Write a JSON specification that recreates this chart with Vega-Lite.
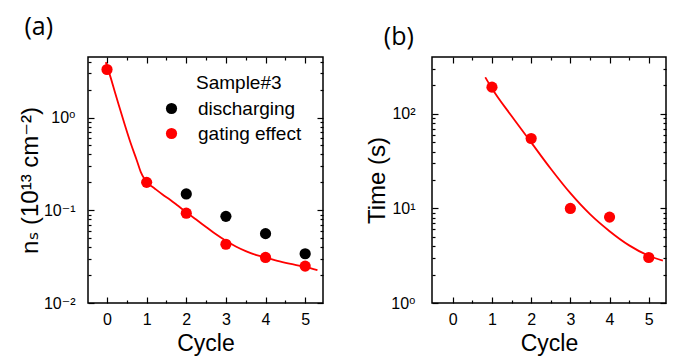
{
  "$schema": "https://vega.github.io/schema/vega-lite/v6.json",
  "background": "white",
  "autosize": {"type": "pad"},
  "padding": {"left": 17, "top": 14, "right": 5, "bottom": 0},
  "config": {
    "view": {"stroke": "black", "strokeWidth": 1.5},
    "font": "Liberation Sans, DejaVu Sans",
    "axis": {"grid": false, "domain": false, "ticks": true, "tickColor": "black", "tickWidth": 1.2, "labelColor": "black", "titleColor": "black", "labelFont": "Liberation Sans, DejaVu Sans", "titleFont": "Liberation Sans, DejaVu Sans", "labelFontSize": 16, "titleFontSize": 24, "titleFontWeight": "normal"},
    "title": {"font": "Open Sans", "fontSize": 25, "fontWeight": "normal", "anchor": "start", "frame": "bounds", "color": "black"}
  },
  "datasets": {
    "ns_points": [
      {"cycle": 2, "ns": 0.15, "series": "discharging"},
      {"cycle": 3, "ns": 0.086, "series": "discharging"},
      {"cycle": 4, "ns": 0.056, "series": "discharging"},
      {"cycle": 5, "ns": 0.034, "series": "discharging"},
      {"cycle": 0, "ns": 3.3, "series": "gating effect"},
      {"cycle": 1, "ns": 0.2, "series": "gating effect"},
      {"cycle": 2, "ns": 0.093, "series": "gating effect"},
      {"cycle": 3, "ns": 0.043, "series": "gating effect"},
      {"cycle": 4, "ns": 0.031, "series": "gating effect"},
      {"cycle": 5, "ns": 0.025, "series": "gating effect"}
    ],
    "ns_fit": [
      {"cycle": -0.03, "ns": 3.96},
      {"cycle": 0.1, "ns": 2.63},
      {"cycle": 0.2, "ns": 1.88},
      {"cycle": 0.3, "ns": 1.35},
      {"cycle": 0.45, "ns": 0.832},
      {"cycle": 0.6, "ns": 0.525},
      {"cycle": 0.75, "ns": 0.347},
      {"cycle": 0.85, "ns": 0.26},
      {"cycle": 0.95, "ns": 0.216},
      {"cycle": 1.05, "ns": 0.193},
      {"cycle": 1.2, "ns": 0.172},
      {"cycle": 1.4, "ns": 0.148},
      {"cycle": 1.6, "ns": 0.129},
      {"cycle": 1.8, "ns": 0.111},
      {"cycle": 2.0, "ns": 0.0955},
      {"cycle": 2.25, "ns": 0.0794},
      {"cycle": 2.5, "ns": 0.0661},
      {"cycle": 2.75, "ns": 0.055},
      {"cycle": 3.0, "ns": 0.0468},
      {"cycle": 3.25, "ns": 0.0407},
      {"cycle": 3.5, "ns": 0.0363},
      {"cycle": 3.75, "ns": 0.0331},
      {"cycle": 4.0, "ns": 0.0309},
      {"cycle": 4.3, "ns": 0.0285},
      {"cycle": 4.6, "ns": 0.0266},
      {"cycle": 5.0, "ns": 0.0245},
      {"cycle": 5.31, "ns": 0.0226}
    ],
    "time_points": [
      {"cycle": 1, "time": 192},
      {"cycle": 2, "time": 55},
      {"cycle": 3, "time": 10},
      {"cycle": 4, "time": 8.1},
      {"cycle": 5, "time": 3.03}
    ],
    "time_fit": [
      {"cycle": 0.83, "time": 244},
      {"cycle": 1.0, "time": 186},
      {"cycle": 1.5, "time": 95},
      {"cycle": 2.0, "time": 50},
      {"cycle": 2.5, "time": 26.3},
      {"cycle": 3.0, "time": 14.5},
      {"cycle": 3.5, "time": 8.7},
      {"cycle": 4.0, "time": 5.75},
      {"cycle": 4.5, "time": 4.07},
      {"cycle": 5.0, "time": 3.16},
      {"cycle": 5.36, "time": 2.8}
    ]
  },
  "bounds": "flush",
  "spacing": 109,
  "hconcat": [
    {
      "title": {"text": "(a)", "offset": 16, "dx": 6},
      "width": 235,
      "height": 246,
      "resolve": {"axis": {"x": "independent", "y": "independent"}},
      "layer": [
        {
          "data": {"name": "ns_fit"},
          "mark": {"type": "line", "color": "red", "strokeWidth": 1.8, "interpolate": "monotone"},
          "encoding": {
            "x": {"field": "cycle", "type": "quantitative", "scale": {"domain": [-0.48, 5.45], "nice": false, "zero": false},
                  "axis": {"orient": "bottom", "values": [0, 1, 2, 3, 4, 5], "ticks": true, "tickColor": "black", "tickWidth": 1.2, "tickOpacity": 1, "offset": -6, "tickSize": 6, "labelPadding": 8, "title": "Cycle", "titlePadding": 5, "titleFontSize": 23}},
            "y": {"field": "ns", "type": "quantitative", "scale": {"type": "log", "domain": [0.01, 4.5], "nice": false},
                  "axis": {"orient": "left", "values": [0.01, 0.1, 1], "ticks": true, "tickColor": "black", "tickWidth": 1.2, "tickOpacity": 1, "offset": -6, "tickSize": 6, "labelPadding": 13,
                           "labelExpr": "datum.value < 0.05 ? '10⁻²' : datum.value < 0.5 ? '10⁻¹' : '10⁰'",
                           "title": "nₛ (10¹³ cm⁻²)", "titlePadding": 1}}
          }
        },
        {
          "data": {"name": "ns_points"},
          "mark": {"type": "circle", "size": 125, "opacity": 1},
          "encoding": {
            "x": {"field": "cycle", "type": "quantitative",
                  "axis": {"orient": "top", "values": [0, 1, 2, 3, 4, 5], "ticks": true, "tickColor": "black", "tickWidth": 1.2, "tickOpacity": 1, "offset": -6, "tickSize": 6, "labels": false, "title": null}},
            "y": {"field": "ns", "type": "quantitative",
                  "axis": {"orient": "right", "values": [0.01, 0.1, 1], "ticks": true, "tickColor": "black", "tickWidth": 1.2, "tickOpacity": 1, "offset": -6, "tickSize": 6, "labels": false, "title": null}},
            "color": {"field": "series", "type": "nominal",
                      "scale": {"domain": ["discharging", "gating effect"], "range": ["black", "red"]},
                      "legend": {"orient": "none", "legendX": 108, "legendY": 17, "title": "Sample#3",
                                 "titleFontSize": 19, "titleFontWeight": "normal", "titleColor": "black", "titlePadding": 6,
                                 "labelFontSize": 19, "labelOffset": 17, "symbolOffset": -34, "rowPadding": 5, "symbolSize": 125, "symbolType": "circle", "symbolStrokeWidth": 0,
                                 "encode": {
                                   "labels": {"update": {"fill": {"signal": "datum.label === 'gating effect' ? 'red' : 'black'"}}}
                                 }}}
          }
        },
        {
          "data": {"name": "ns_points"},
          "mark": {"type": "circle", "opacity": 0},
          "encoding": {
            "x": {"field": "cycle", "type": "quantitative",
                  "axis": {"orient": "bottom", "values": [0.5, 1.5, 2.5, 3.5, 4.5], "ticks": true, "tickColor": "black", "tickWidth": 1.2, "tickOpacity": 1, "offset": -3, "tickSize": 3, "labels": false, "title": null}},
            "y": {"field": "ns", "type": "quantitative",
                  "axis": {"orient": "left", "values": [0.02, 0.03, 0.04, 0.05, 0.06, 0.07, 0.08, 0.09, 0.2, 0.3, 0.4, 0.5, 0.6, 0.7, 0.8, 0.9, 2, 3, 4], "ticks": true, "tickColor": "black", "tickWidth": 1.2, "tickOpacity": 1, "offset": -3, "tickSize": 3, "labels": false, "title": null}}
          }
        },
        {
          "data": {"name": "ns_points"},
          "mark": {"type": "circle", "opacity": 0},
          "encoding": {
            "x": {"field": "cycle", "type": "quantitative",
                  "axis": {"orient": "top", "values": [0.5, 1.5, 2.5, 3.5, 4.5], "ticks": true, "tickColor": "black", "tickWidth": 1.2, "tickOpacity": 1, "offset": -3, "tickSize": 3, "labels": false, "title": null}},
            "y": {"field": "ns", "type": "quantitative",
                  "axis": {"orient": "right", "values": [0.02, 0.03, 0.04, 0.05, 0.06, 0.07, 0.08, 0.09, 0.2, 0.3, 0.4, 0.5, 0.6, 0.7, 0.8, 0.9, 2, 3, 4], "ticks": true, "tickColor": "black", "tickWidth": 1.2, "tickOpacity": 1, "offset": -3, "tickSize": 3, "labels": false, "title": null}}
          }
        }
      ]
    },
    {
      "title": {"text": "(b)", "offset": 6, "dx": 18},
      "width": 234,
      "height": 246,
      "resolve": {"axis": {"x": "independent", "y": "independent"}},
      "layer": [
        {
          "data": {"name": "time_fit"},
          "mark": {"type": "line", "color": "red", "strokeWidth": 1.8, "interpolate": "monotone"},
          "encoding": {
            "x": {"field": "cycle", "type": "quantitative", "scale": {"domain": [-0.53, 5.44], "nice": false, "zero": false},
                  "axis": {"orient": "bottom", "values": [0, 1, 2, 3, 4, 5], "ticks": true, "tickColor": "black", "tickWidth": 1.2, "tickOpacity": 1, "offset": -6, "tickSize": 6, "labelPadding": 8, "title": "Cycle", "titlePadding": 5, "titleFontSize": 23}},
            "y": {"field": "time", "type": "quantitative", "scale": {"type": "log", "domain": [1, 400], "nice": false},
                  "axis": {"orient": "left", "values": [1, 10, 100], "ticks": true, "tickColor": "black", "tickWidth": 1.2, "tickOpacity": 1, "offset": -6, "tickSize": 6, "labelPadding": 17,
                           "labelExpr": "datum.value < 5 ? '10⁰' : datum.value < 50 ? '10¹' : '10²'",
                           "title": "Time (s)", "titlePadding": 1}}
          }
        },
        {
          "data": {"name": "time_points"},
          "mark": {"type": "circle", "size": 125, "opacity": 1, "color": "red"},
          "encoding": {
            "x": {"field": "cycle", "type": "quantitative",
                  "axis": {"orient": "top", "values": [0, 1, 2, 3, 4, 5], "ticks": true, "tickColor": "black", "tickWidth": 1.2, "tickOpacity": 1, "offset": -6, "tickSize": 6, "labels": false, "title": null}},
            "y": {"field": "time", "type": "quantitative",
                  "axis": {"orient": "right", "values": [1, 10, 100], "ticks": true, "tickColor": "black", "tickWidth": 1.2, "tickOpacity": 1, "offset": -6, "tickSize": 6, "labels": false, "title": null}}
          }
        },
        {
          "data": {"name": "time_points"},
          "mark": {"type": "circle", "opacity": 0},
          "encoding": {
            "x": {"field": "cycle", "type": "quantitative",
                  "axis": {"orient": "bottom", "values": [0.5, 1.5, 2.5, 3.5, 4.5], "ticks": true, "tickColor": "black", "tickWidth": 1.2, "tickOpacity": 1, "offset": -3, "tickSize": 3, "labels": false, "title": null}},
            "y": {"field": "time", "type": "quantitative",
                  "axis": {"orient": "left", "values": [2, 3, 4, 5, 6, 7, 8, 9, 20, 30, 40, 50, 60, 70, 80, 90, 200, 300], "ticks": true, "tickColor": "black", "tickWidth": 1.2, "tickOpacity": 1, "offset": -3, "tickSize": 3, "labels": false, "title": null}}
          }
        },
        {
          "data": {"name": "time_points"},
          "mark": {"type": "circle", "opacity": 0},
          "encoding": {
            "x": {"field": "cycle", "type": "quantitative",
                  "axis": {"orient": "top", "values": [0.5, 1.5, 2.5, 3.5, 4.5], "ticks": true, "tickColor": "black", "tickWidth": 1.2, "tickOpacity": 1, "offset": -3, "tickSize": 3, "labels": false, "title": null}},
            "y": {"field": "time", "type": "quantitative",
                  "axis": {"orient": "right", "values": [2, 3, 4, 5, 6, 7, 8, 9, 20, 30, 40, 50, 60, 70, 80, 90, 200, 300], "ticks": true, "tickColor": "black", "tickWidth": 1.2, "tickOpacity": 1, "offset": -3, "tickSize": 3, "labels": false, "title": null}}
          }
        }
      ]
    }
  ]
}
